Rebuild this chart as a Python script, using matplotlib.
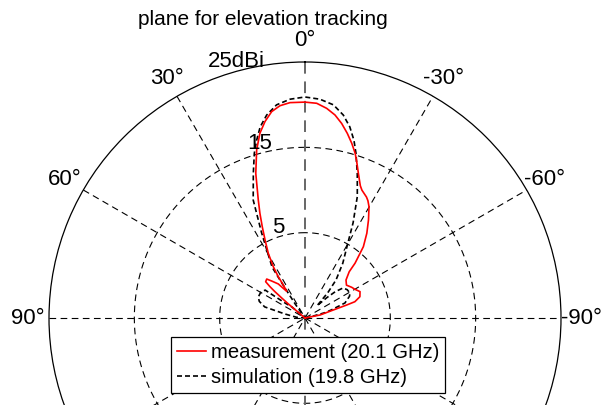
import numpy as np
import matplotlib
matplotlib.use("Agg")
import matplotlib.pyplot as plt

plt.rcParams['font.family'] = ['Liberation Sans', 'DejaVu Sans']

# ---- data (angle in degrees, positive = left of broadside; gain in dBi) ----
meas_angle = [-90, -85, -78.7, -74.2, -72.7, -71.9, -68.8, -64.4, -60.1, -56.7, -51.6, -47.2,
              -43.7, -42.4, -40.4, -39.3, -36.1, -32.9, -29.9, -28.2, -26.95, -24,
              -22.7, -20.2, -18.3, -16.9, -14.97, -12.9, -10.67, -8.4, -5.9, -3.12, 0,
              3.99, 6.72, 9.17, 11.5, 13.7, 16.04, 18.8, 21.6, 23.3, 25.1, 27.1, 29.6, 31.7,
              32.9, 33.3, 34.5, 38.1, 42, 44.5, 47.3, 48.2, 48.8, 49.3, 49.8, 50.3, 60, 75, 90]
meas_gain = [-5, -5, -3.2, -1.55, 0.1, 1.15, 1.9, 2.15, 1.75, 1.55, 1.2, 1.55,
             2.5, 3.7, 4.95, 5.8, 7.3, 8.7, 10.05, 10.6, 10.9, 11.4,
             11.8, 13.1, 14.3, 15.2, 16.2, 17.2, 18.2, 19.05, 19.7, 20.2, 20.3,
             20.3, 20.05, 19.5, 18.5, 17.3, 15.5, 12.9, 9.87, 8.36, 6.8, 5.28, 3.7, 2.07,
             0.77, -0.37, -1.2, 0.07, 0.83, 1.4, 1.27, 0.5, -0.3, -1.4, -2.4, -5, -5, -5, -5]

sim_angle = [-90, -80, -75, -73, -69.4, -64, -60.9, -56, -51.7, -49, -47, -44.5, -42, -39.2,
             -34.6, -29.8, -26.8, -23.3, -19.9, -17.2, -15.4, -13.2, -10.7, -7.6, -3.9, 0,
             3.9, 7.6, 10.7, 13.2, 15.2, 17.1, 19.66, 23.7, 27, 29.5, 32.9, 33.5, 35, 37,
             47, 50, 53, 55, 60, 65.9, 70, 74.6, 78.7, 85, 90]
sim_gain = [-5, -4.5, -2.5, -1.8, 0.0, 0.8, 1.03, 0.95, 0.67, -0.3, -1.5, -3.0, -1.0, 0.75,
            2.8, 5.1, 7.5, 10.5, 13.0, 15.2, 16.6, 18.0, 19.2, 20.2, 20.7, 20.9,
            20.7, 20.2, 19.2, 18.0, 16.6, 15.2, 13.0, 10.1, 6.2, 4.0, 2.1, 0.0, -3, -5,
            -5, -3.0, -2.1, 0.7, 1.0, 1.0, 0.7, -0.1, -2.6, -4, -5]

angle_ticks = [0, 30, 60, 90, -90, -60, -30]
angle_labels = ['0°', '30°', '60°', '90°', '-90°', '-60°', '-30°']
spoke_angles = [0, 30, 60, 90, 120, 150]
ring_values = [5, 15, 25]
ring_labels = ['5', '15', '25dBi']
ring_label_angle = [16.5, 14.5, 15]
series_labels = ['measurement (20.1 GHz)', 'simulation (19.8 GHz)']

RMIN, RMAX = -5, 25

fig = plt.figure(figsize=(6.06, 4.05), dpi=100)
W, H = 606, 405
cx, cy, R = 305, 318, 256
ax = fig.add_axes([(cx - R) / W, (H - cy - R) / H, 2 * R / W, 2 * R / H], projection='polar')
ax.set_theta_zero_location('N')
ax.set_theta_direction(1)
ax.set_rlim(RMIN, RMAX)
ax.grid(False)
ax.set_xticks([])
ax.set_yticks([])
ax.spines['polar'].set_color('black')
ax.spines['polar'].set_linewidth(0.9)
ax.patch.set_facecolor('white')

# grid rings
full = np.linspace(0, 2 * np.pi, 721)
for rv in ring_values[:-1]:
    ax.plot(full, np.full_like(full, rv), color='black', lw=0.8,
            dashes=(6, 4), zorder=1)
# spokes (full diameters)
for a in spoke_angles:
    t = np.deg2rad(a)
    col, lw = ('#666666', 1.4) if a == 0 else ('black', 0.8)
    ax.plot([t, t], [RMAX, RMIN], color=col, lw=lw, dashes=(6, 4), zorder=1)
    ax.plot([t + np.pi, t + np.pi], [RMIN, RMAX], color=col, lw=lw, dashes=(6, 4), zorder=1)

# data
l1, = ax.plot(np.deg2rad(meas_angle), np.clip(meas_gain, RMIN, RMAX), color='red', lw=1.2, zorder=4)
l2, = ax.plot(np.deg2rad(sim_angle), np.clip(sim_gain, RMIN, RMAX), color='black', lw=1.2,
              dashes=(3, 1.8), zorder=3)

# angle labels
r_lab = RMIN + (RMAX - RMIN) * 277 / 256
for a, lab in zip(angle_ticks, angle_labels):
    ax.text(np.deg2rad(a), r_lab, lab, ha='center', va='center', fontsize=16, clip_on=False)

# ring labels
for rv, lab, a in zip(ring_values, ring_labels, ring_label_angle):
    ax.text(np.deg2rad(a), rv + 1.1, lab, ha='center', va='center', fontsize=16, zorder=5)

fig.text(262.5 / W, 1 - 25 / H, 'plane for elevation tracking', ha='center', va='baseline', fontsize=15)

leg = ax.legend([l1, l2], series_labels, loc='upper left',
                bbox_to_anchor=(171 / W, 1 - 337 / H), bbox_transform=fig.transFigure,
                fontsize=14.6, frameon=True, fancybox=False, edgecolor='black', framealpha=1,
                borderpad=0.3, handlelength=1.45, handletextpad=0.2, labelspacing=0.3,
                borderaxespad=0)
leg.get_frame().set_linewidth(0.9)

fig.savefig('out.png', dpi=100)
